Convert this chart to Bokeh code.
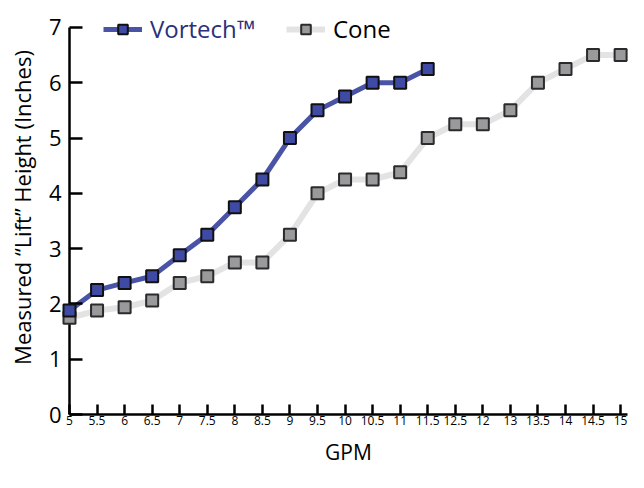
from bokeh.plotting import figure
from bokeh.models import Range1d, FixedTicker, Legend, LegendItem
from bokeh.embed import file_html
from bokeh.resources import INLINE

# ---- data ----
gpm_labels = ["5", "5.5", "6", "6.5", "7", "7.5", "8", "8.5", "9", "9.5", "10",
              "10.5", "11", "11.5", "12.5", "12", "13", "13.5", "14", "14.5", "15"]
vortech = [1.88, 2.25, 2.38, 2.5, 2.88, 3.25, 3.75, 4.25, 5.0, 5.5, 5.75, 6.0, 6.0, 6.25]
cone = [1.75, 1.88, 1.94, 2.06, 2.38, 2.5, 2.75, 2.75, 3.25, 4.0, 4.25, 4.25, 4.38,
        5.0, 5.25, 5.25, 5.5, 6.0, 6.25, 6.5, 6.5]
y_ticks = [0, 1, 2, 3, 4, 5, 6, 7]

x_all = list(range(len(gpm_labels)))
x_vortech = x_all[:len(vortech)]
x_cone = x_all[:len(cone)]

FONT = "Open Sans"
W, H = 628, 472
LEFT, RIGHT, TOP, BOTTOM = 69, 1, 0, 58

p = figure(width=W, height=H, output_backend="svg", toolbar_location=None,
           x_range=Range1d(0, len(gpm_labels) - 1 + 0.25),
           y_range=Range1d(0, 7.487),
           min_border_left=LEFT, min_border_right=RIGHT,
           min_border_top=TOP, min_border_bottom=BOTTOM)
p.outline_line_color = None
p.grid.visible = False
p.background_fill_color = "white"
p.border_fill_color = "white"

# x axis
xa = p.xaxis[0]
xa.ticker = FixedTicker(ticks=x_all)
xa.major_label_overrides = {i: lab for i, lab in enumerate(gpm_labels)}
xa.axis_label = "GPM"
xa.axis_label_text_font = FONT
xa.axis_label_text_font_size = "21px"
xa.axis_label_text_font_style = "normal"
xa.axis_label_text_color = "black"
xa.axis_label_standoff = 10
xa.major_label_text_font = FONT
xa.major_label_text_font_size = "12px"
xa.major_label_standoff = 1
xa.major_tick_in = 10
xa.major_tick_out = 0
xa.minor_tick_line_color = None
xa.axis_line_width = 2.5
xa.major_tick_line_width = 2.5
xa.axis_line_color = "black"
xa.major_tick_line_color = "black"
xa.major_label_text_color = "black"

# y axis
ya = p.yaxis[0]
ya.ticker = FixedTicker(ticks=y_ticks)
ya.bounds = (0, 7)
ya.axis_label = "Measured \u201cLift\u201d Height (Inches)"
ya.axis_label_text_font = FONT
ya.axis_label_text_font_size = "22px"
ya.axis_label_text_font_style = "normal"
ya.axis_label_text_color = "black"
ya.axis_label_standoff = 9
ya.major_label_text_font = FONT
ya.major_label_text_font_size = "22px"
ya.major_label_standoff = 8
ya.major_tick_in = 13
ya.major_tick_out = 0
ya.minor_tick_line_color = None
ya.axis_line_width = 2.5
ya.major_tick_line_width = 2.5
ya.axis_line_color = "black"
ya.major_tick_line_color = "black"
ya.major_label_text_color = "black"

# series
cl = p.line(x_cone, cone, line_color="#e3e3e3", line_width=6, line_join="round")
vl = p.line(x_vortech, vortech, line_color="#4a54a6", line_width=5, line_join="round")
cs = p.scatter(x_cone, cone, marker="square", size=12, fill_color="#9a9a9c",
               line_color="#2b2b2b", line_width=2, level="overlay")
vs = p.scatter(x_vortech, vortech, marker="square", size=12, fill_color="#3e4aa3",
               line_color="#111111", line_width=2, level="overlay")

leg_y = 369
leg1 = Legend(items=[LegendItem(label="Vortech\u2122", renderers=[vl, vs])],
              location=(34, leg_y))
leg2 = Legend(items=[LegendItem(label="Cone", renderers=[cl, cs])],
              location=(217, leg_y))
for lg, col in ((leg1, "#2b3079"), (leg2, "black")):
    lg.label_text_font = FONT
    lg.label_text_font_size = "24px"
    lg.label_text_color = col
    lg.glyph_width = 39
    lg.glyph_height = 24
    lg.label_standoff = 8
    lg.padding = 0
    lg.margin = 0
    lg.spacing = 0
    lg.border_line_color = None
    lg.background_fill_alpha = 0
    lg.label_height = 24
    p.add_layout(lg, "center")

open("out.html", "w").write(file_html(p, INLINE))
